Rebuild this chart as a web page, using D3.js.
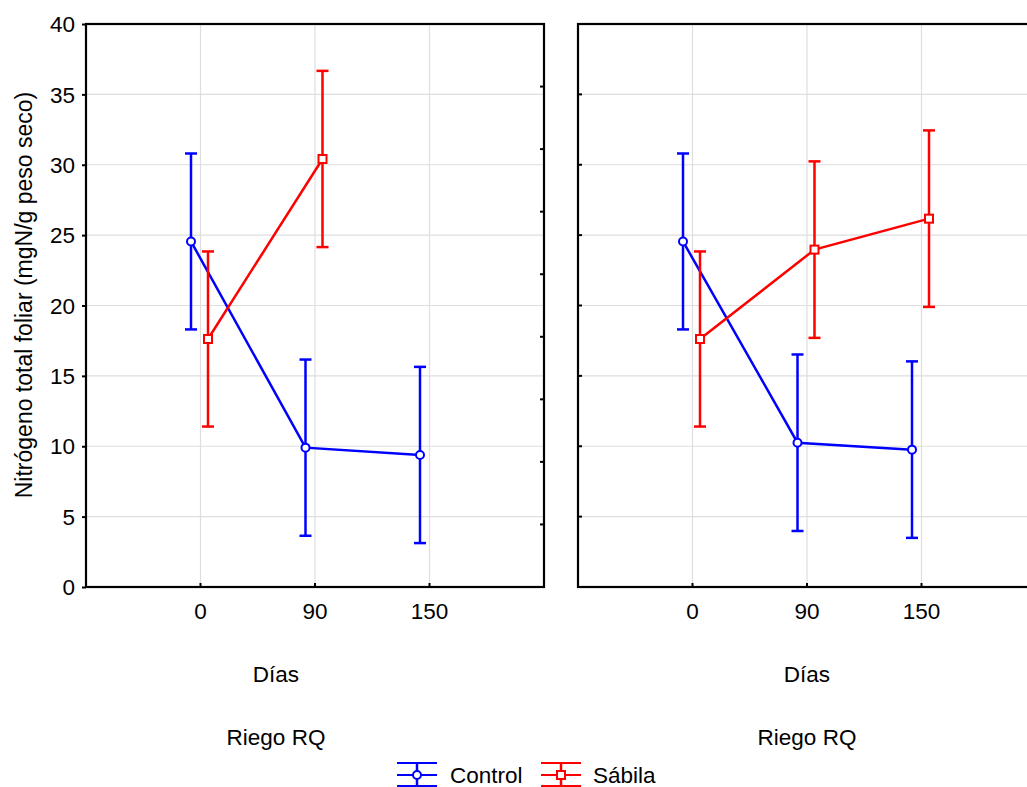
<!DOCTYPE html>
<html><head><meta charset="utf-8">
<script src="https://cdn.jsdelivr.net/npm/d3@7"></script>
<style>body{margin:0;background:#fff}svg{display:block}text{font-family:"Liberation Sans",Arial,sans-serif;fill:#000}</style>
</head><body><svg id="c" width="1027" height="787"></svg>
<script>
// ---- data ----
const days = ["0", "90", "150"];
const panels = ["Riego RQ", "Riego RQ"];
const yTicks = [0, 5, 10, 15, 20, 25, 30, 35, 40];
// panel 1 (left)
const controlMean1 = [24.55, 9.9, 9.38];
const controlErr1  = [6.25, 6.26, 6.26];
const sabilaMean1  = [17.62, 30.41, null];
const sabilaErr1   = [6.22, 6.26, null];
// panel 2 (right)
const controlMean2 = [24.55, 10.25, 9.76];
const controlErr2  = [6.25, 6.27, 6.27];
const sabilaMean2  = [17.62, 23.97, 26.17];
const sabilaErr2   = [6.22, 6.27, 6.27];
const seriesNames = ["Control", "Sábila"];
const seriesColors = ["#0000ff", "#ff0000"];

const FS = 22.5;
const svg = d3.select("#c");
const plotTop = 24, plotBottom = 587, pw = 458;
const panelX = [86, 578];
const labelCx = [276, 807];
const y = d3.scaleLinear().domain([0, 40]).range([plotBottom, plotTop]);
const yRight = d3.scaleLinear().domain([0, 9]).range([plotBottom, plotTop]);
const offsets = [-9.5, 7.5];

const panelData = [
  [{m: controlMean1, e: controlErr1}, {m: sabilaMean1, e: sabilaErr1}],
  [{m: controlMean2, e: controlErr2}, {m: sabilaMean2, e: sabilaErr2}]
];

panelData.forEach((series, pi) => {
  const x0 = panelX[pi];
  const x = d3.scalePoint().domain(days).range([x0 + pw / 4, x0 + 3 * pw / 4]);
  const g = svg.append("g");
  g.selectAll(".gy").data(yTicks.slice(1, -1)).join("line")
    .attr("x1", x0).attr("x2", x0 + pw).attr("y1", d => y(d)).attr("y2", d => y(d))
    .attr("stroke", "#dedede").attr("stroke-width", 1.2);
  g.selectAll(".gx").data(days).join("line")
    .attr("x1", d => x(d)).attr("x2", d => x(d)).attr("y1", plotTop).attr("y2", plotBottom)
    .attr("stroke", "#dedede").attr("stroke-width", 1.2);
  g.append("rect").attr("x", x0).attr("y", plotTop).attr("width", pw).attr("height", plotBottom - plotTop)
    .attr("fill", "none").attr("stroke", "#000").attr("stroke-width", 2.2);
  if (pi === 0) {
    const ax = g.append("g").attr("transform", `translate(${x0},0)`)
      .call(d3.axisLeft(y).tickValues(yTicks).tickSize(4).tickPadding(7));
    ax.select(".domain").remove();
    ax.selectAll("line").attr("stroke-width", 2);
    ax.selectAll("text").attr("font-size", FS).attr("fill", "#000").attr("dy", "0.34em")
      .style("font-family", '"Liberation Sans",Arial,sans-serif');
    g.selectAll(".rt").data(d3.range(1, 9)).join("line")
      .attr("x1", x0 + pw).attr("x2", x0 + pw - 4)
      .attr("y1", d => yRight(d)).attr("y2", d => yRight(d))
      .attr("stroke", "#000").attr("stroke-width", 2);
  } else {
    g.selectAll(".lt").data(yTicks.slice(1, -1)).join("line")
      .attr("x1", x0).attr("x2", x0 + 4)
      .attr("y1", d => y(d)).attr("y2", d => y(d))
      .attr("stroke", "#000").attr("stroke-width", 2);
  }
  g.selectAll(".bt").data(days).join("line")
    .attr("x1", d => x(d)).attr("x2", d => x(d)).attr("y1", plotBottom).attr("y2", plotBottom - 4)
    .attr("stroke", "#000").attr("stroke-width", 2);
  g.selectAll(".bl").data(days).join("text")
    .attr("x", d => x(d)).attr("y", 619).attr("text-anchor", "middle")
    .attr("font-size", FS).text(d => d);
  g.append("text").attr("x", labelCx[pi]).attr("y", 682).attr("text-anchor", "middle")
    .attr("font-size", FS).text("Días");
  g.append("text").attr("x", labelCx[pi]).attr("y", 745).attr("text-anchor", "middle")
    .attr("font-size", FS).text(panels[pi]);

  series.forEach((s, si) => {
    const col = seriesColors[si];
    const pts = days.map((d, i) => ({d, m: s.m[i], e: s.e[i]})).filter(p => p.m != null);
    const px = p => x(p.d) + offsets[si];
    const sg = g.append("g");
    sg.append("path").datum(pts)
      .attr("d", d3.line().x(px).y(p => y(p.m)))
      .attr("fill", "none").attr("stroke", col).attr("stroke-width", 2.5);
    pts.forEach(p => {
      const cx = px(p);
      sg.append("line").attr("x1", cx).attr("x2", cx).attr("y1", y(p.m + p.e)).attr("y2", y(p.m - p.e))
        .attr("stroke", col).attr("stroke-width", 2.5);
      [p.m + p.e, p.m - p.e].forEach(v => {
        sg.append("line").attr("x1", cx - 6).attr("x2", cx + 6).attr("y1", y(v)).attr("y2", y(v))
          .attr("stroke", col).attr("stroke-width", 2.5);
      });
      if (si === 0) {
        sg.append("circle").attr("cx", cx).attr("cy", y(p.m)).attr("r", 4)
          .attr("fill", "#fff").attr("stroke", col).attr("stroke-width", 2);
      } else {
        sg.append("rect").attr("x", cx - 4).attr("y", y(p.m) - 4).attr("width", 8).attr("height", 8)
          .attr("fill", "#fff").attr("stroke", col).attr("stroke-width", 2);
      }
    });
  });
});

svg.append("text").attr("transform", "translate(32,295) rotate(-90)")
  .attr("text-anchor", "middle").attr("font-size", 23)
  .text("Nitrógeno total foliar (mgN/g peso seco)");

const legX = [397, 541];
const legTx = [450, 593];
seriesNames.forEach((name, i) => {
  const col = seriesColors[i];
  const lg = svg.append("g");
  const x1 = legX[i], x2 = x1 + 40, cx = x1 + 20;
  [763, 775, 786].forEach(yy => lg.append("line").attr("x1", x1).attr("x2", x2).attr("y1", yy).attr("y2", yy)
    .attr("stroke", col).attr("stroke-width", 2));
  lg.append("line").attr("x1", cx).attr("x2", cx).attr("y1", 763).attr("y2", 787).attr("stroke", col).attr("stroke-width", 2.5);
  if (i === 0) lg.append("circle").attr("cx", cx).attr("cy", 775).attr("r", 4).attr("fill", "#fff").attr("stroke", col).attr("stroke-width", 2);
  else lg.append("rect").attr("x", cx - 4).attr("y", 771).attr("width", 8).attr("height", 8).attr("fill", "#fff").attr("stroke", col).attr("stroke-width", 2);
  lg.append("text").attr("x", legTx[i]).attr("y", 783).attr("font-size", FS).text(name);
});
</script></body></html>
